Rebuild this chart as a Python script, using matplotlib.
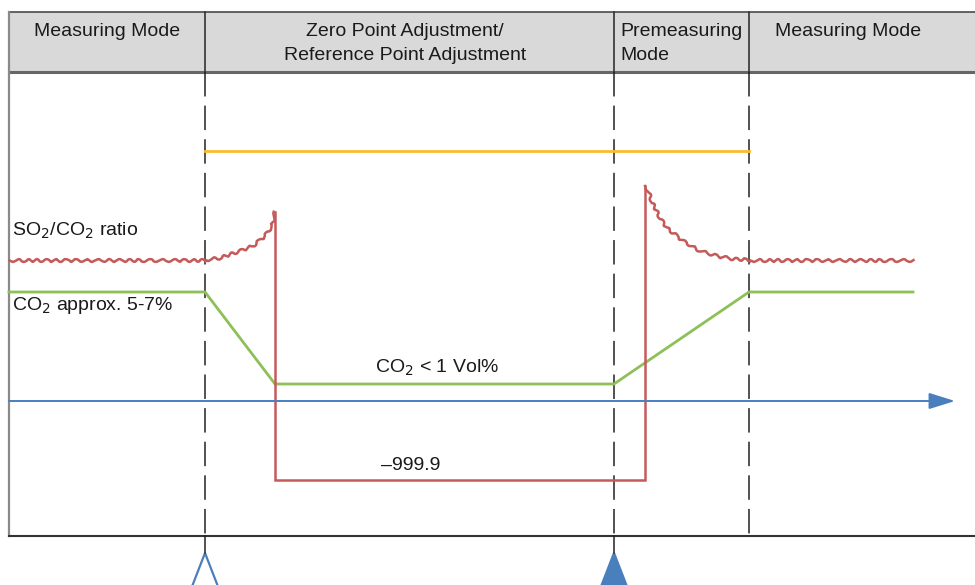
import matplotlib
matplotlib.use('Agg')
import matplotlib.pyplot as plt
from matplotlib.patches import Rectangle, Polygon

FONT = ['Liberation Sans Narrow', 'Liberation Sans', 'DejaVu Sans']
plt.rcParams['font.family'] = FONT
plt.rcParams['mathtext.fontset'] = 'custom'
plt.rcParams['mathtext.rm'] = FONT[0]

# phase boundaries (time axis) and header labels
frame_left = 9
frame_right = 975
phase_edges = [205, 614, 749]
header_labels = ['Measuring Mode',
                 'Zero Point Adjustment/\nReference Point Adjustment',
                 'Premeasuring\nMode',
                 'Measuring Mode']
header_x = [107, 405, 620, 775]
header_ha = ['center', 'center', 'left', 'left']

# signals (screen units, y grows downward)
orange_x = [205, 749]
orange_y = [151, 151]

green_x = [9, 205, 275, 614, 749, 913]
green_y = [292, 292, 384, 384, 292, 292]

red_flat1_x = [9, 205]
red_flat1_y = [260, 260]
red_rise_x = [205, 220, 240, 253, 265, 272, 275]
red_rise_y = [260, 258, 251, 246, 236, 226, 212]
red_step_x = [275, 275, 645, 645]
red_step_y = [212, 480, 480, 186]
red_decay_x = [645, 648, 652, 660, 667, 683, 700, 717, 733, 750]
red_decay_y = [186, 190, 202, 218, 228, 241, 251, 256, 259, 260]
red_flat2_x = [750, 913]
red_flat2_y = [260, 260]

time_axis_y = 401
time_axis_x = [9, 955]

RED = '#c55a5a'
GREEN = '#8dc058'
BLUE = '#4a7fbd'
ORANGE = '#f9bb30'
TXT = '#1a1a1a'

fig = plt.figure(figsize=(9.75, 5.85), dpi=100)
ax = fig.add_axes([0, 0, 1, 1])
ax.set_xlim(0, 975)
ax.set_ylim(585, 0)
ax.axis('off')

# header band
ax.add_patch(Rectangle((frame_left, 12), frame_right - frame_left, 60,
                       facecolor='#d9d9d9', edgecolor='none', zorder=0))
ax.plot([frame_left, frame_right], [12, 12], color='#4a4a4a', lw=1.2)
ax.plot([frame_left, frame_right], [72, 72], color='#666666', lw=2.2)
ax.plot([frame_left, frame_left], [12, 536], color='#8a8a8a', lw=1.6)
ax.plot([frame_left, frame_right], [536, 536], color='#333333', lw=1.5)

for x in phase_edges:
    ax.plot([x, x], [12, 72], color='#333333', lw=1.2)
    ax.plot([x, x], [72, 536], color='#222222', lw=1.1, dashes=(16, 6))

for lab, x, ha in zip(header_labels, header_x, header_ha):
    ax.text(x, 23, lab, ha=ha, va='top', fontsize=14, color=TXT,
            linespacing=1.5)

# signals
ax.plot(orange_x, orange_y, color=ORANGE, lw=2)
ax.plot(green_x, green_y, color=GREEN, lw=2, solid_joinstyle='miter')
for xs, ys in [(red_flat1_x, red_flat1_y), (red_rise_x, red_rise_y),
               (red_decay_x, red_decay_y), (red_flat2_x, red_flat2_y)]:
    ln, = ax.plot(xs, ys, color=RED, lw=1.8)
    ln.set_sketch_params(scale=1.4, length=11, randomness=2)
ax.plot(red_step_x, red_step_y, color=RED, lw=1.8, solid_joinstyle='miter')

ax.annotate('', xy=(time_axis_x[1], time_axis_y),
            xytext=(time_axis_x[0], time_axis_y),
            arrowprops=dict(arrowstyle='-|>,head_length=1.6,head_width=0.5',
                            mutation_scale=10, color=BLUE, lw=1.4,
                            shrinkA=0, shrinkB=0))

# labels
ax.text(12, 231, r'SO$_2$/CO$_2$ ratio', fontsize=14, color=TXT, va='center')
ax.text(12, 306, r'CO$_2$ approx. 5-7%', fontsize=14, color=TXT, va='center')
ax.text(437, 368, r'CO$_2$ < 1 Vol%', fontsize=14, color=TXT,
        va='center', ha='center')
ax.text(411, 465, '–999.9', fontsize=14, color=TXT, va='center', ha='center')

# trigger markers below the frame
for x, filled in zip(phase_edges[:2], [False, True]):
    ax.plot([x, x], [536, 553], color='#222222', lw=1.1)
    tri = Polygon([(x, 553), (x - 15.5, 593), (x + 15.5, 593)],
                  closed=True, facecolor=BLUE if filled else 'white',
                  edgecolor=BLUE, lw=1.6, clip_on=False)
    ax.add_patch(tri)

fig.savefig('out.png', dpi=100)
